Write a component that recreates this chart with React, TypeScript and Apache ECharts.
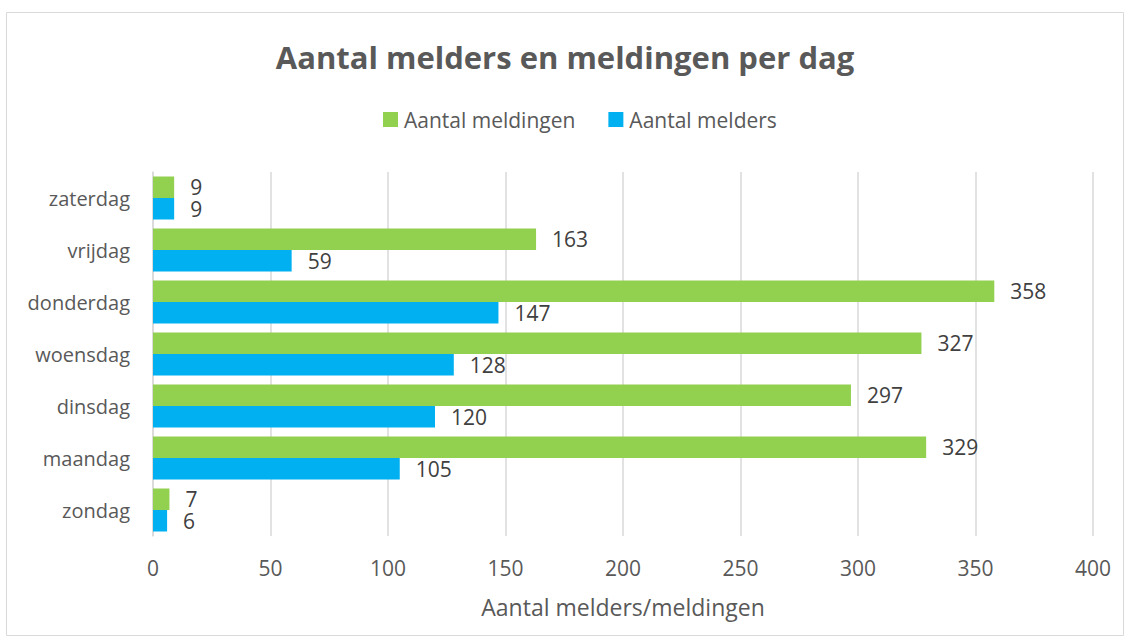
import React, { useEffect, useRef } from "react";
import * as echarts from "echarts";

const categories = ["zondag", "maandag", "dinsdag", "woensdag", "donderdag", "vrijdag", "zaterdag"];
const meldingen = [7, 329, 297, 327, 358, 163, 9];
const melders = [6, 105, 120, 128, 147, 59, 9];
const xTicks = [0, 50, 100, 150, 200, 250, 300, 350, 400];

const FONT = "'Open Sans', sans-serif";

export default function App() {
  const ref = useRef<HTMLDivElement>(null);
  useEffect(() => {
    document.body.style.margin = "0";
    const chart = echarts.init(ref.current!, null, { renderer: "svg" });
    chart.setOption({
      animation: false,
      textStyle: { fontFamily: FONT },
      graphic: [
        {
          type: "rect",
          shape: { x: 6.5, y: 12.5, width: 1117, height: 623 },
          style: { fill: "none", stroke: "#d9d9d9", lineWidth: 1 },
          silent: true,
        },
      ],
      title: {
        text: "Aantal melders en meldingen per dag",
        left: "center",
        top: 36,
        textStyle: { fontFamily: FONT, fontSize: 31, fontWeight: "bold", color: "#595959" },
      },
      legend: {
        top: 104,
        left: 378,
        itemWidth: 15,
        itemHeight: 15,
        itemGap: 33,
        icon: "rect",
        textStyle: { fontFamily: FONT, fontSize: 21, color: "#595959", padding: [0, 0, 0, 1] },
        data: ["Aantal meldingen", "Aantal melders"],
      },
      grid: { left: 153, right: 37, top: 172, bottom: 106, containLabel: false },
      xAxis: {
        type: "value",
        min: 0,
        max: 400,
        interval: 50,
        name: "Aantal melders/meldingen",
        nameLocation: "middle",
        nameGap: 59,
        nameTextStyle: { fontFamily: FONT, fontSize: 23, color: "#595959" },
        axisLine: { show: false },
        axisTick: { show: false },
        axisLabel: {
          fontFamily: FONT,
          fontSize: 21,
          color: "#595959",
          margin: 21,
          formatter: (v: number) => (xTicks.includes(v) ? String(v) : ""),
        },
        splitLine: { show: true, lineStyle: { color: "#d9d9d9", width: 1.5 } },
      },
      yAxis: {
        type: "category",
        data: categories,
        axisLine: { show: true, lineStyle: { color: "#d9d9d9", width: 1.5 } },
        axisTick: { show: false },
        axisLabel: { fontFamily: FONT, fontSize: 20, color: "#595959", margin: 23 },
      },
      series: [
        {
          name: "Aantal meldingen",
          type: "bar",
          data: meldingen,
          barWidth: 21.5,
          barGap: "0%",
          itemStyle: { color: "#92D050" },
          label: { show: true, position: "right", distance: 16, fontFamily: FONT, fontSize: 21, color: "#404040" },
        },
        {
          name: "Aantal melders",
          type: "bar",
          data: melders,
          barWidth: 21.5,
          barGap: "0%",
          itemStyle: { color: "#00B0F0" },
          label: { show: true, position: "right", distance: 16, fontFamily: FONT, fontSize: 21, color: "#404040" },
        },
      ],
    });
    return () => chart.dispose();
  }, []);
  return <div ref={ref} style={{ width: 1130, height: 642 }} />;
}
